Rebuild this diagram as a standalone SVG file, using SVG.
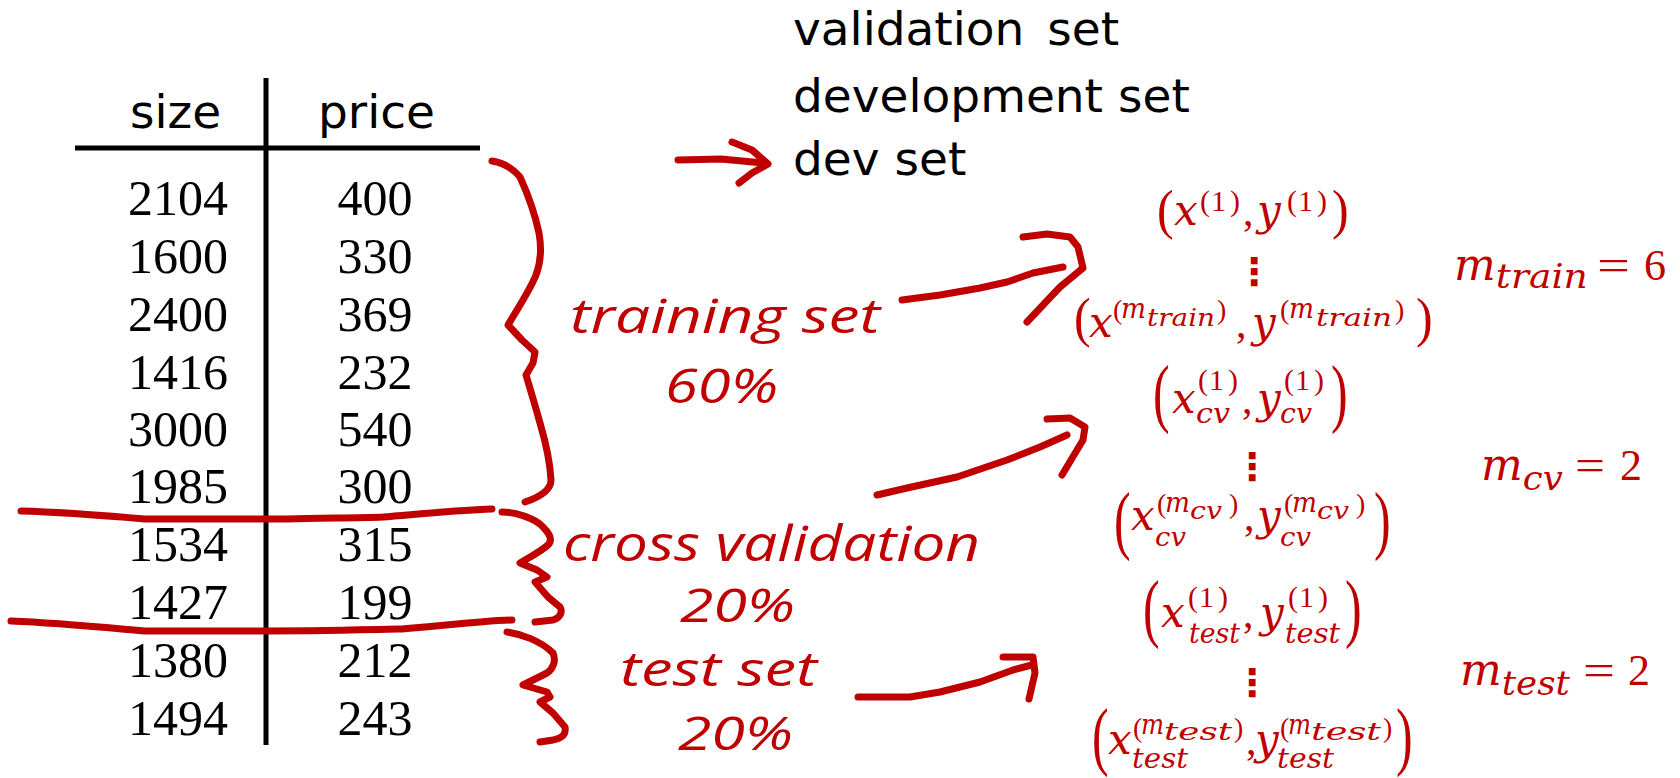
<svg xmlns="http://www.w3.org/2000/svg" width="1680" height="778" viewBox="0 0 1680 778">
  <style>
    .head { font-family: "DejaVu Sans", Verdana, sans-serif; font-size: 47px; fill: #000; }
    .num { font-family: "Liberation Serif", "Times New Roman", serif; font-size: 50px; fill: #000; text-anchor: middle; }
    .rule { stroke: #000; stroke-width: 5; fill: none; }
    .ink { stroke: #C00000; stroke-width: 7; fill: none; stroke-linecap: round; stroke-linejoin: round; }
    .hand { font-family: "Open Sans", "Noto Sans", sans-serif; font-style: italic; fill: #C00000; }
    .mv { font-family: "DejaVu Serif", serif; font-style: italic; fill: #C00000; }
    .mu { font-family: "Liberation Serif", serif; font-style: normal; fill: #C00000; }
    .dots { font-family: "DejaVu Sans", sans-serif; fill: #C00000; font-size: 38px; font-weight: bold; text-anchor: middle; }
  </style>
  <rect width="1680" height="778" fill="#fff"/>

  <!-- data table -->
  <g id="table">
    <line class="rule" x1="266" y1="78" x2="266" y2="745"/>
    <line class="rule" x1="75" y1="148" x2="480" y2="148"/>
    <text class="head" x="130" y="128">size</text>
    <text class="head" x="318" y="128">price</text>
    <g class="num">
      <text x="178" y="215">2104</text><text x="375" y="215">400</text>
      <text x="178" y="273">1600</text><text x="375" y="273">330</text>
      <text x="178" y="331">2400</text><text x="375" y="331">369</text>
      <text x="178" y="389">1416</text><text x="375" y="389">232</text>
      <text x="178" y="446">3000</text><text x="375" y="446">540</text>
      <text x="178" y="503">1985</text><text x="375" y="503">300</text>
      <text x="178" y="561">1534</text><text x="375" y="561">315</text>
      <text x="178" y="619">1427</text><text x="375" y="619">199</text>
      <text x="178" y="677">1380</text><text x="375" y="677">212</text>
      <text x="178" y="735">1494</text><text x="375" y="735">243</text>
    </g>
  </g>

  <!-- split strokes and braces -->
  <g id="splits">
    <path class="ink" d="M21,511 C60,512 110,516 145,519 L287,519 C330,518 360,518 383,517 C420,514 460,510 492,509"/>
    <path class="ink" d="M11,621 C60,623 110,628 145,631 L268,631 C320,631 360,630 402,629 C440,626 480,621 512,620"/>
    <path class="ink" d="M492,161 C505,163 514,170 520,177 C525,188 533,205 539,233 C542,250 541,262 536,275 C530,290 518,308 508,325 L522,340 L535,352 L533,363 L526,375 C529,385 535,405 540,423 C545,440 550,460 551,480 C551,490 540,497 525,502"/>
    <path class="ink" d="M502,512 C515,512 535,518 543,527 C550,534 553,540 548,545 C540,552 530,557 520,563 L537,570 L547,577 L535,582 L548,597 L560,607 C563,612 560,618 553,620 L535,622"/>
    <path class="ink" d="M507,632 C520,634 540,640 553,653 C556,660 554,668 547,673 L523,685 L547,692 L550,697 L540,702 L553,713 L565,727 C566,733 564,738 553,740 L540,742"/>
  </g>

  <!-- alternative names -->
  <g id="names">
    <text class="head" x="793" y="45" word-spacing="8">validation set</text>
    <text class="head" x="793" y="112">development set</text>
    <text class="head" x="793" y="175">dev set</text>
  </g>

  <!-- handwritten split labels -->
  <g id="label-train">
    <text class="hand" x="570" y="333" font-size="48" textLength="310" lengthAdjust="spacingAndGlyphs">training set</text>
    <text class="hand" x="665" y="403" font-size="48" textLength="113" lengthAdjust="spacingAndGlyphs">60%</text>
  </g>
  <g id="label-cv">
    <text class="hand" x="563" y="561" font-size="50" textLength="417" lengthAdjust="spacingAndGlyphs">cross validation</text>
    <text class="hand" x="680" y="622" font-size="46" textLength="115" lengthAdjust="spacingAndGlyphs">20%</text>
  </g>
  <g id="label-test">
    <text class="hand" x="620" y="686" font-size="48" textLength="197" lengthAdjust="spacingAndGlyphs">test set</text>
    <text class="hand" x="678" y="750" font-size="46" textLength="115" lengthAdjust="spacingAndGlyphs">20%</text>
  </g>

  <!-- arrows -->
  <g id="connectors">
    <path class="ink" d="M678,160 L721,159 L763,163 M732,142 L752,150 L768,164 L752,173 L739,183"/>
    <path class="ink" d="M902,300 L940,295 L980,288 L1007,282 L1033,273 L1063,267 M1023,237 L1047,234 L1070,237 L1078,247 L1083,268 L1060,287 L1027,322"/>
    <path class="ink" d="M877,495 L907,488 L957,477 L1007,460 L1040,447 L1067,435 M1047,419 L1070,418 L1085,427 L1083,440 L1062,475"/>
    <path class="ink" d="M858,697 L910,697 L940,692 L980,682 L1013,670 L1032,665 M1003,657 L1033,657 L1035,673 L1029,699"/>
  </g>

  <!-- training examples -->
  <g id="train-examples">
    <text class="mu" font-size="50" transform="translate(1157,228) scale(1,1.1)">(</text>
    <text class="mv" font-size="42"><tspan x="1174" y="225">x</tspan><tspan class="mu" x="1200 1211 1230" y="211" font-size="30">(1)</tspan><tspan class="mu" x="1243" y="225">,</tspan><tspan x="1257" y="225">y</tspan><tspan class="mu" x="1287 1298 1317" y="211" font-size="30">(1)</tspan></text>
    <text class="mu" font-size="50" transform="translate(1332,228) scale(1,1.1)">)</text>

    <text class="dots" x="1254" y="285">⋮</text>

    <text class="mu" font-size="50" transform="translate(1074,336) scale(1,1.1)">(</text>
    <text class="mv" font-size="42"><tspan x="1089" y="337">x</tspan><tspan class="mu" x="1113" y="319" font-size="28">(</tspan><tspan x="1121" y="318" font-size="28" textLength="25" lengthAdjust="spacingAndGlyphs">m</tspan><tspan x="1147" y="326" font-size="24" textLength="68" lengthAdjust="spacingAndGlyphs">train</tspan><tspan class="mu" x="1217" y="319" font-size="28">)</tspan><tspan class="mu" x="1236" y="337">,</tspan><tspan x="1252" y="337">y</tspan><tspan class="mu" x="1280" y="319" font-size="28">(</tspan><tspan x="1289" y="318" font-size="28" textLength="25" lengthAdjust="spacingAndGlyphs">m</tspan><tspan x="1316" y="326" font-size="24" textLength="76" lengthAdjust="spacingAndGlyphs">train</tspan><tspan class="mu" x="1395" y="319" font-size="28">)</tspan></text>
    <text class="mu" font-size="50" transform="translate(1416,336) scale(1,1.1)">)</text>
  </g>
  <g id="m-train">
    <text class="mv" x="1454" y="280" font-size="44">m<tspan font-size="34" dy="8" textLength="92" lengthAdjust="spacingAndGlyphs">train</tspan></text>
    <text class="mu" x="1597" y="280" font-size="44" textLength="33" lengthAdjust="spacingAndGlyphs">=</text>
    <text class="mu" x="1644" y="280" font-size="44">6</text>
  </g>

  <!-- cross validation examples -->
  <g id="cv-examples">
    <text class="mu" font-size="50" transform="translate(1153,418) scale(1,1.54)">(</text>
    <text class="mv" font-size="42"><tspan x="1172" y="413">x</tspan><tspan class="mu" x="1198 1209 1228" y="390" font-size="30">(1)</tspan><tspan x="1196" y="423" font-size="28" textLength="34" lengthAdjust="spacingAndGlyphs">cv</tspan><tspan class="mu" x="1242" y="413">,</tspan><tspan x="1257" y="413">y</tspan><tspan class="mu" x="1284 1295 1314" y="390" font-size="30">(1)</tspan><tspan x="1280" y="423" font-size="28" textLength="32" lengthAdjust="spacingAndGlyphs">cv</tspan></text>
    <text class="mu" font-size="50" transform="translate(1331,418) scale(1,1.54)">)</text>

    <text class="dots" x="1252" y="480">⋮</text>

    <text class="mu" font-size="50" transform="translate(1114,545) scale(1,1.54)">(</text>
    <text class="mv" font-size="42"><tspan x="1131" y="530">x</tspan><tspan class="mu" x="1157" y="513" font-size="28">(</tspan><tspan x="1165" y="512" font-size="28" textLength="25" lengthAdjust="spacingAndGlyphs">m</tspan><tspan x="1190" y="519" font-size="24" textLength="32" lengthAdjust="spacingAndGlyphs">cv</tspan><tspan class="mu" x="1229" y="513" font-size="28">)</tspan><tspan x="1155" y="546" font-size="26" textLength="31" lengthAdjust="spacingAndGlyphs">cv</tspan><tspan class="mu" x="1244" y="530">,</tspan><tspan x="1257" y="530">y</tspan><tspan class="mu" x="1284" y="513" font-size="28">(</tspan><tspan x="1292" y="512" font-size="28" textLength="25" lengthAdjust="spacingAndGlyphs">m</tspan><tspan x="1317" y="519" font-size="24" textLength="32" lengthAdjust="spacingAndGlyphs">cv</tspan><tspan class="mu" x="1356" y="513" font-size="28">)</tspan><tspan x="1280" y="546" font-size="26" textLength="31" lengthAdjust="spacingAndGlyphs">cv</tspan></text>
    <text class="mu" font-size="50" transform="translate(1374,545) scale(1,1.54)">)</text>
  </g>
  <g id="m-cv">
    <text class="mv" x="1481" y="480" font-size="44">m<tspan font-size="34" dy="10" textLength="40" lengthAdjust="spacingAndGlyphs">cv</tspan></text>
    <text class="mu" x="1575" y="480" font-size="44" textLength="30" lengthAdjust="spacingAndGlyphs">=</text>
    <text class="mu" x="1620" y="480" font-size="44">2</text>
  </g>

  <!-- test examples -->
  <g id="test-examples">
    <text class="mu" font-size="50" transform="translate(1143,633) scale(1,1.54)">(</text>
    <text class="mv" font-size="42"><tspan x="1161" y="627">x</tspan><tspan class="mu" x="1188 1199 1218" y="607" font-size="30">(1)</tspan><tspan x="1189" y="643" font-size="28" textLength="51" lengthAdjust="spacingAndGlyphs">test</tspan><tspan class="mu" x="1243" y="627">,</tspan><tspan x="1260" y="627">y</tspan><tspan class="mu" x="1288 1299 1318" y="607" font-size="30">(1)</tspan><tspan x="1285" y="643" font-size="28" textLength="55" lengthAdjust="spacingAndGlyphs">test</tspan></text>
    <text class="mu" font-size="50" transform="translate(1345,633) scale(1,1.54)">)</text>

    <text class="dots" x="1252" y="696">⋮</text>

    <text class="mu" font-size="50" transform="translate(1092,761) scale(1,1.54)">(</text>
    <text class="mv" font-size="42"><tspan x="1108" y="754">x</tspan><tspan class="mu" x="1133" y="737" font-size="28">(</tspan><tspan x="1141" y="734" font-size="28" textLength="23" lengthAdjust="spacingAndGlyphs">m</tspan><tspan x="1164" y="740" font-size="24" textLength="68" lengthAdjust="spacingAndGlyphs">test</tspan><tspan class="mu" x="1234" y="737" font-size="28">)</tspan><tspan x="1132" y="768" font-size="28" textLength="56" lengthAdjust="spacingAndGlyphs">test</tspan><tspan class="mu" x="1246" y="754">,</tspan><tspan x="1255" y="754">y</tspan><tspan class="mu" x="1280" y="737" font-size="28">(</tspan><tspan x="1288" y="734" font-size="28" textLength="23" lengthAdjust="spacingAndGlyphs">m</tspan><tspan x="1311" y="740" font-size="24" textLength="70" lengthAdjust="spacingAndGlyphs">test</tspan><tspan class="mu" x="1383" y="737" font-size="28">)</tspan><tspan x="1277" y="768" font-size="28" textLength="57" lengthAdjust="spacingAndGlyphs">test</tspan></text>
    <text class="mu" font-size="50" transform="translate(1396,761) scale(1,1.54)">)</text>
  </g>
  <g id="m-test">
    <text class="mv" x="1460" y="685" font-size="44">m<tspan font-size="34" dy="10" textLength="68" lengthAdjust="spacingAndGlyphs">test</tspan></text>
    <text class="mu" x="1583" y="685" font-size="44" textLength="32" lengthAdjust="spacingAndGlyphs">=</text>
    <text class="mu" x="1628" y="685" font-size="44">2</text>
  </g>
</svg>
